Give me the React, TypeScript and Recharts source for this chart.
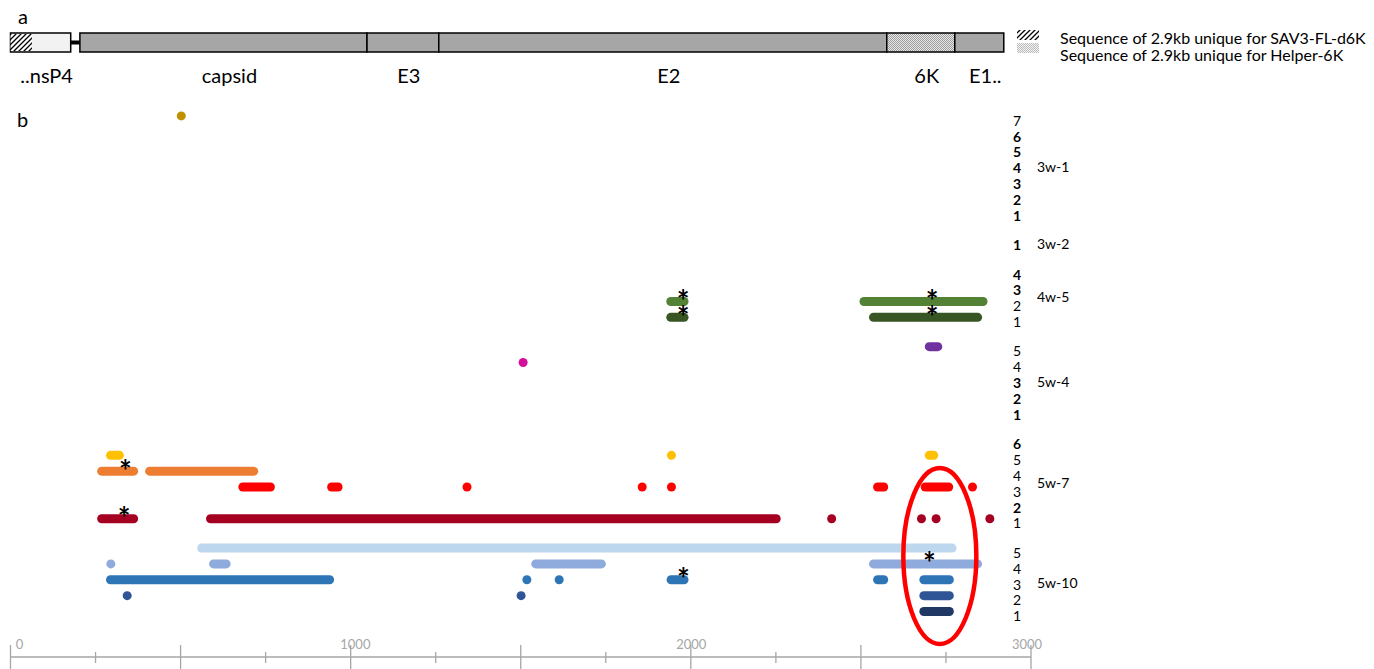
import { ComposedChart, Line, Scatter, XAxis, YAxis, ReferenceArea, ReferenceDot } from 'recharts'

// genome map (nt)
const geneNames = ['..nsP4', 'capsid', 'E3', 'E2', '6K', 'E1..']
const geneStart = [0, 204, 1048, 1259, 2576, 2776]
const geneEnd = [177, 1048, 1259, 2576, 2776, 2920]
const uniqueD6K = [0, 63]
const linker = [177, 204]

// samples and their lanes
const groupNames = ['3w-1', '3w-2', '4w-5', '5w-4', '5w-7', '5w-10']
const laneCounts = [7, 1, 4, 5, 6, 5]

// covered regions per lane: [lane, start, end] in nt
const reads3w1 = [[7, 502, 502]]
const reads3w2: number[][] = []
const reads4w5 = [[2, 1941, 1980], [2, 2509, 2859], [1, 1941, 1980], [1, 2537, 2843]]
const reads5w4 = [[5, 2701, 2726], [4, 1507, 1507]]
const reads5w7 = [
    [5, 294, 320], [5, 1943, 1943], [5, 2701, 2714],
    [4, 268, 362], [4, 409, 715],
    [3, 683, 764], [3, 944, 963], [3, 1342, 1342], [3, 1857, 1857], [3, 1943, 1943], [3, 2549, 2567], [3, 2689, 2758], [3, 2828, 2828],
    [1, 268, 362], [1, 588, 2251], [1, 2414, 2414], [1, 2678, 2678], [1, 2721, 2721], [1, 2879, 2879],
]
const reads5w10 = [
    [5, 562, 2768],
    [4, 295, 295], [4, 597, 634], [4, 1544, 1737], [4, 2537, 2843],
    [3, 294, 938], [3, 1518, 1518], [3, 1613, 1613], [3, 1942, 1980], [3, 2549, 2567], [3, 2685, 2760],
    [2, 343, 343], [2, 1501, 1501], [2, 2685, 2760],
    [1, 2685, 2760],
]
const readsByGroup = [reads3w1, reads3w2, reads4w5, reads5w4, reads5w7, reads5w10]

// asterisks: [group, lane, nt]
const stars: [number, number, number][] = [
    [4, 4, 338], [4, 1, 334], [2, 2, 1977], [2, 1, 1977], [2, 2, 2709], [2, 1, 2709], [5, 4, 2701], [5, 3, 1978],
]

const xTicks = [0, 250, 500, 750, 1000, 1250, 1500, 1750, 2000, 2250, 2500, 2750, 3000]

const laneColors: Record<string, string> = {
    '0-7': '#BF9000',
    '2-2': '#548235', '2-1': '#375623',
    '3-5': '#7030A0', '3-4': '#D4109B',
    '4-5': '#FFC000', '4-4': '#ED7D31', '4-3': '#FF0000', '4-1': '#A50021',
    '5-5': '#BDD7EE', '5-4': '#8FAADC', '5-3': '#2E75B6', '5-2': '#2F5597', '5-1': '#203864',
}

const GAP = 0.852
const laneT = (g: number, lane: number) => {
    let idx = 0
    for (let i = 0; i < g; i++) idx += laneCounts[i]
    return idx + (laneCounts[g] - lane) + g * GAP
}

const rows = groupNames.flatMap((name, g) =>
    Array.from({ length: laneCounts[g] }, (_, k) => {
        const lane = laneCounts[g] - k
        return { g, lane, t: laneT(g, lane), bold: !readsByGroup[g].some(r => r[0] === lane) }
    })
)
const groupTicks = groupNames.map((_, g) => {
    const rs = rows.filter(r => r.g === g)
    return rs.reduce((s, r) => s + r.t, 0) / rs.length
})

const segments = readsByGroup.flatMap((reads, g) =>
    reads.map(([lane, s, e]) => ({ key: `${g}-${lane}-${s}`, color: laneColors[`${g}-${lane}`], data: [{ x: s, y: laneT(g, lane) }, { x: e, y: laneT(g, lane) }] }))
)
const starPts = stars.map(([g, lane, x]) => ({ x, y: laneT(g, lane) }))
const labelPts = geneNames.map((name, i) => ({ x: (geneStart[i] + geneEnd[i]) / 2, y: 82.5, name }))

const RowTick = (p: any) => {
    const r = rows.find(rr => Math.abs(rr.t - p.payload.value) < 1e-6)
    if (!r) return null
    return (
        <text x={p.x - 15} y={p.y + 4.7} dy="0.36em" textAnchor="middle" fontSize={14} fontWeight={r.bold ? 700 : 400} fill="#000">
            {r.lane}
        </text>
    )
}

const GroupTick = (p: any) => {
    const g = groupTicks.findIndex(t => Math.abs(t - p.payload.value) < 1e-6)
    if (g < 0) return null
    return (
        <text x={p.x + 6} y={p.y + 3.5} dy="0.36em" textAnchor="start" fontSize={14} fill="#000">
            {groupNames[g]}
        </text>
    )
}

const XTick = (p: any) => {
    const v = p.payload.value
    const major = v % 500 === 0
    return (
        <g>
            <line x1={p.x} x2={p.x} y1={major ? p.y - 12 : p.y - 5} y2={major ? p.y + 14 : p.y + 6} stroke="#A6A6A6" strokeWidth={1.3} />
            {v % 1000 === 0 && (
                <text x={p.x + 9 - v * 0.0043} y={p.y - 13} dy="0.36em" textAnchor="middle" fontSize={13} fill="#A6A6A6">{v}</text>
            )}
        </g>
    )
}

export default function App() {
    return (
        <div style={{ position: 'absolute', left: 0, top: 0, width: 1374, height: 669, fontFamily: 'Lato', background: '#fff' }}>
            <svg width={0} height={0} style={{ position: 'absolute' }}>
                <defs>
                    <pattern id="hatch" width={5} height={5} patternUnits="userSpaceOnUse">
                        <rect width={5} height={5} fill="#fff" />
                        <path d="M-1,1 l2,-2 M0,5 l5,-5 M4,6 l2,-2" stroke="#000" strokeWidth={1.3} />
                    </pattern>
                    <pattern id="checker" width={2} height={2} patternUnits="userSpaceOnUse">
                        <rect width={2} height={2} fill="#E8E8E8" />
                        <rect width={1} height={1} fill="#9C9C9C" />
                        <rect x={1} y={1} width={1} height={1} fill="#9C9C9C" />
                    </pattern>
                    <pattern id="checkerLight" width={2} height={2} patternUnits="userSpaceOnUse">
                        <rect width={2} height={2} fill="#F2F2F2" />
                        <rect width={1} height={1} fill="#BDBDBD" />
                        <rect x={1} y={1} width={1} height={1} fill="#BDBDBD" />
                    </pattern>
                </defs>
            </svg>

            <div style={{ position: 'absolute', left: 0, top: 0 }}>
                <ComposedChart width={1374} height={100} margin={{ top: 0, right: 343, bottom: 0, left: 10.5 }} data={labelPts}>
                    <XAxis type="number" dataKey="x" domain={[0, 3000]} hide allowDataOverflow />
                    <YAxis type="number" dataKey="y" domain={[0, 100]} reversed hide allowDataOverflow />
                    {geneNames.map((n, i) => (
                        <ReferenceArea key={n} x1={geneStart[i]} x2={geneEnd[i]} y1={33} y2={52}
                            fill={i === 0 ? '#F2F2F2' : n === '6K' ? 'url(#checker)' : '#A6A6A6'} fillOpacity={1}
                            stroke="#000" strokeWidth={1.5} />
                    ))}
                    <ReferenceArea x1={uniqueD6K[0]} x2={uniqueD6K[1]} y1={34} y2={51} fill="url(#hatch)" fillOpacity={1} />
                    <ReferenceArea x1={linker[0]} x2={linker[1]} y1={40.5} y2={44.5} fill="#000" fillOpacity={1} />
                    <Scatter data={labelPts} isAnimationActive={false}
                        shape={(p: any) => (
                            <text x={p.cx + 6} y={p.cy} textAnchor="middle" fontSize={20} fill="#000">{p.payload.name}</text>
                        )} />
                </ComposedChart>
            </div>

            <div style={{ position: 'absolute', left: 0, top: 0 }}>
                <ComposedChart width={1374} height={669} margin={{ top: 108, right: 0, bottom: 0, left: 10.5 }}>
                    <XAxis type="number" dataKey="x" domain={[0, 3000]} ticks={xTicks} interval={0} allowDataOverflow
                        height={12} tickSize={0} tickMargin={0} tickLine={false}
                        axisLine={{ stroke: '#A6A6A6', strokeWidth: 1.3 }} tick={XTick} />
                    <YAxis yAxisId="rows" orientation="right" type="number" dataKey="y" domain={[-0.5, 34.13]} reversed
                        allowDataOverflow ticks={rows.map(r => r.t)} interval={0} width={342} tickSize={0} tickMargin={0}
                        axisLine={false} tickLine={false} tick={RowTick} />
                    <YAxis yAxisId="groups" orientation="right" type="number" domain={[-0.5, 34.13]} reversed
                        allowDataOverflow ticks={groupTicks} interval={0} width={1} tickSize={0} tickMargin={0}
                        axisLine={false} tickLine={false} tick={GroupTick} />
                    {segments.map(s => (
                        <Line key={s.key} yAxisId="rows" data={s.data} dataKey="y" stroke={s.color} strokeWidth={9}
                            strokeLinecap="round" dot={false} activeDot={false} isAnimationActive={false} />
                    ))}
                    <Scatter yAxisId="rows" data={starPts} dataKey="y" isAnimationActive={false}
                        shape={(p: any) => (
                            <text x={p.cx} y={p.cy - 6 + 16.5} textAnchor="middle" fontSize={30} fontWeight={700} fill="#000">*</text>
                        )} />
                    <ReferenceDot yAxisId="rows" x={2732} y={(laneT(5, 5) + laneT(5, 4)) / 2} r={0}
                        shape={(p: any) => (
                            <ellipse cx={p.cx} cy={p.cy} rx={36.5} ry={88} fill="none" stroke="#FF0000" strokeWidth={4.5} />
                        )} />
                </ComposedChart>
            </div>

            <svg width={1374} height={669} style={{ position: 'absolute', left: 0, top: 0, pointerEvents: 'none' }}>
                <text x={18} y={24} fontSize={20} fill="#000">a</text>
                <text x={17} y={127} fontSize={20} fill="#000">b</text>
                <rect x={1017} y={30} width={22} height={10} fill="url(#hatch)" />
                <rect x={1017} y={43} width={22} height={10} fill="url(#checkerLight)" />
                <text x={1060} y={44} fontSize={16} fill="#000">Sequence of 2.9kb unique for SAV3-FL-d6K</text>
                <text x={1060} y={61} fontSize={16} fill="#000">Sequence of 2.9kb unique for Helper-6K</text>
            </svg>
        </div>
    )
}
